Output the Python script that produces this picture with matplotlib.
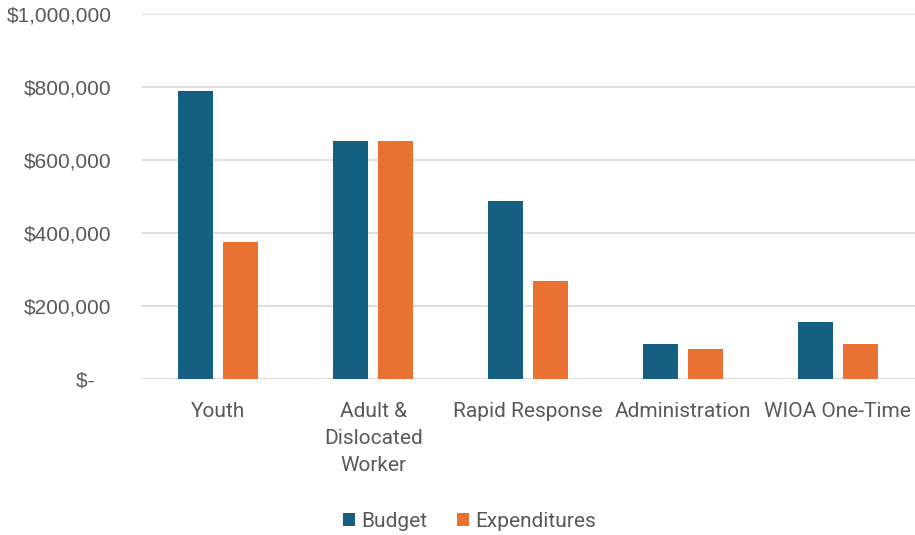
import numpy as np
from matplotlib import pyplot as plt
from matplotlib.ticker import FuncFormatter

categories = ["Youth", "Adult &\nDislocated\nWorker", "Rapid Response", "Administration", "WIOA One-Time"]
budget = [788000, 653000, 487000, 97000, 158000]
expenditures = [376000, 653000, 268000, 83000, 97000]

blue = "#156082"
orange = "#E97132"
grey = "#595959"

fig = plt.figure(figsize=(9.15, 5.35), dpi=100)
ax = fig.add_axes([0.154, 0.291, 0.846, 0.683])

x = np.arange(len(categories))
w = 0.226
off = 0.145
ax.bar(x - off, budget, w, color=blue, label="Budget", zorder=3)
ax.bar(x + off, expenditures, w, color=orange, label="Expenditures", zorder=3)

ax.set_xlim(-0.5, len(categories) - 0.5)
ax.set_ylim(0, 1000000)
ax.set_yticks(np.arange(0, 1000001, 200000))

def money(v, pos):
    if v == 0:
        return "$-   "
    return "${:,.0f}".format(v)

ax.yaxis.set_major_formatter(FuncFormatter(money))
ax.grid(axis="y", color="#d9d9d9", linewidth=1.2, zorder=0)
for s in ax.spines.values():
    s.set_visible(False)
ax.tick_params(axis="y", length=0, pad=21, labelsize=15, labelcolor=grey)
ax.tick_params(axis="x", length=0, pad=16, labelsize=15, labelcolor=grey)
for t in ax.get_yticklabels():
    t.set_family("Liberation Sans")

ax.set_xticks(x)
ax.set_xticklabels(categories, family="Roboto", linespacing=1.55)

leg = fig.legend(loc="center", bbox_to_anchor=(0.513, 0.025), ncol=2, frameon=False,
                 handlelength=0.6, handleheight=0.6, handletextpad=0.3, columnspacing=1.4,
                 prop={"family": "Roboto", "size": 15})
for t in leg.get_texts():
    t.set_color(grey)

fig.savefig("out.png", dpi=100)
